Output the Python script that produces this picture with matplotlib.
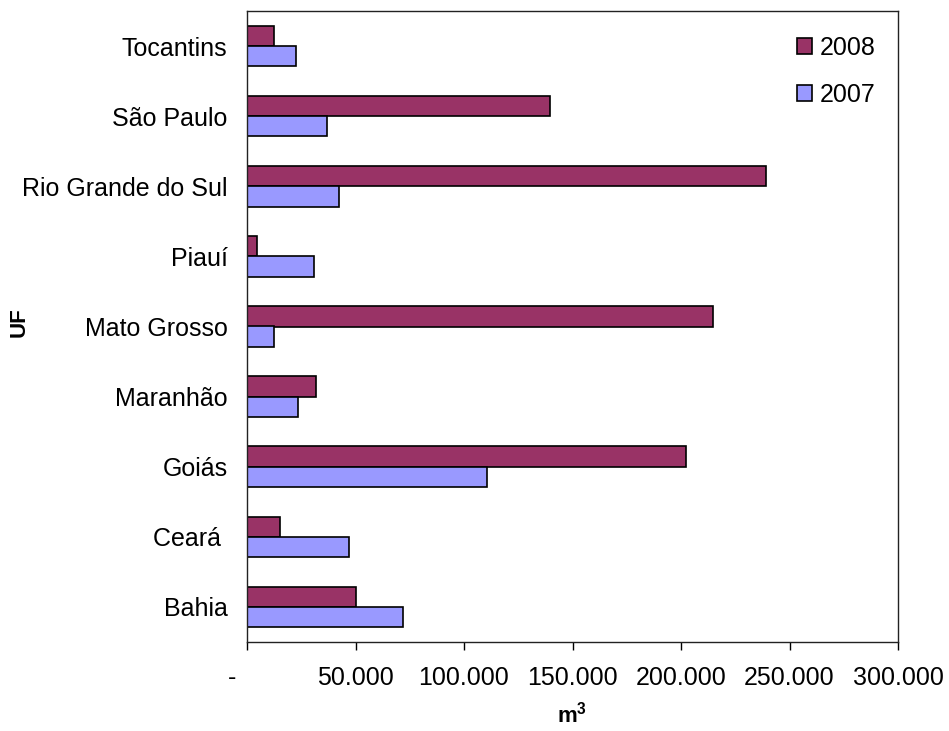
import numpy as np
import matplotlib
matplotlib.use('Agg')
import matplotlib.pyplot as plt
import matplotlib.transforms as mtransforms

plt.rcParams['font.family'] = ['Liberation Sans', 'DejaVu Sans']
plt.rcParams['mathtext.fontset'] = 'custom'
plt.rcParams['mathtext.bf'] = 'Liberation Sans:bold'
plt.rcParams['mathtext.rm'] = 'Liberation Sans'

# data (m3 per state)
states = ['Bahia', 'Ceará ', 'Goiás', 'Maranhão', 'Mato Grosso', 'Piauí',
          'Rio Grande do Sul', 'São Paulo', 'Tocantins']
v2008 = [50300, 15350, 202300, 31600, 214900, 4450, 239100, 139500, 12600]
v2007 = [71850, 46800, 110500, 23500, 12600, 30700, 42350, 36950, 22400]
xticks = [0, 50000, 100000, 150000, 200000, 250000, 300000]
xticklabels = ['-', '50.000', '100.000', '150.000', '200.000', '250.000', '300.000']

fig = plt.figure(figsize=(9.49, 7.31), dpi=100)
ax = fig.add_axes([247/949, 1-642/731, (898-247)/949, (642-11)/731])

y = np.arange(len(states))
h = 0.29
ax.barh(y + h/2, v2008, height=h, color='#993366', edgecolor='black', linewidth=1.2, label='2008')
ax.barh(y - h/2, v2007, height=h, color='#9999FF', edgecolor='black', linewidth=1.2, label='2007')

ax.set_xlim(0, 300000)
ax.set_ylim(-0.5, len(states) - 0.5)
ax.set_yticks(y)
ax.set_yticklabels(states, fontsize=18)
ax.tick_params(axis='y', length=0, pad=14)
ax.set_xticks(xticks)
ax.set_xticklabels(xticklabels, fontsize=18)
ax.tick_params(axis='x', direction='out', length=6, width=1, pad=11)

# the "-" zero label sits left of its tick, like the excel accounting format
lab0 = ax.get_xticklabels()[0]
lab0.set_transform(lab0.get_transform() + mtransforms.ScaledTranslation(-0.15, 0, fig.dpi_scale_trans))

for s in ax.spines.values():
    s.set_linewidth(1)
    s.set_color('#222222')

fig.text(19/949, 1-322/731, 'UF', rotation=90, fontsize=16, fontweight='bold', ha='center', va='center')
fig.text(572/949, 1-715/731, r'$\mathbf{m^3}$', fontsize=16, ha='center', va='center')

ax.legend(loc='upper left', bbox_to_anchor=(0.845, 0.96), frameon=False, fontsize=18,
          handlelength=0.6, handleheight=0.6, handletextpad=0.3, labelspacing=0.92,
          borderpad=0, borderaxespad=0)

fig.savefig('out.png', dpi=100)
